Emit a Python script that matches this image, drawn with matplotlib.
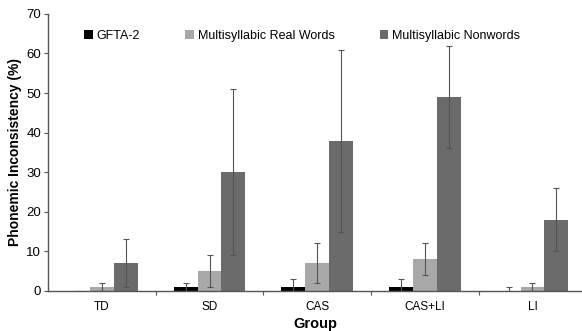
import numpy as np
import matplotlib
matplotlib.use('Agg')
import matplotlib.pyplot as plt

groups = ['TD', 'SD', 'CAS', 'CAS+LI', 'LI']
series = ['GFTA-2', 'Multisyllabic Real Words', 'Multisyllabic Nonwords']
gfta = [0, 1, 1, 1, 0]
gfta_err = [0, 1, 2, 2, 1]
real = [1, 5, 7, 8, 1]
real_err = [1, 4, 5, 4, 1]
nonw = [7, 30, 38, 49, 18]
nonw_err = [6, 21, 23, 13, 8]

plt.rcParams['font.family'] = ['Liberation Sans', 'DejaVu Sans']

fig = plt.figure(figsize=(5.82, 3.31), dpi=100)
ax = fig.add_axes([0.0825, 0.121, 0.9175, 0.837])

colors = ['#000000', '#a8a8a8', '#6b6b6b']
x = np.arange(len(groups)) + 0.5
width = 0.222
for i, (vals, errs) in enumerate([(gfta, gfta_err), (real, real_err), (nonw, nonw_err)]):
    vals = np.array(vals, dtype=float)
    errs = np.array(errs, dtype=float)
    lower = np.minimum(vals, errs)
    ax.bar(x + (i - 1) * width, vals, width, color=colors[i], label=series[i],
           yerr=[lower, errs], capsize=2.5,
           error_kw=dict(ecolor='#555555', elinewidth=0.8, capthick=0.8))

ax.set_xlim(0, 4.96)
ax.set_ylim(0, 70)
ax.set_yticks(range(0, 71, 10))
ax.set_xticks([1, 2, 3, 4])
ax.set_xticklabels([])
ax.set_xticks(x, minor=True)
ax.set_xticklabels(groups, minor=True, fontsize=8.5)
ax.tick_params(axis='x', which='minor', length=0, pad=7)
ax.tick_params(axis='x', which='major', length=3, color='#555555')
ax.tick_params(axis='y', labelsize=9.5, length=3, color='#555555', pad=2)

for s in ['top', 'right']:
    ax.spines[s].set_visible(False)
for s in ['left', 'bottom']:
    ax.spines[s].set_color('#555555')
    ax.spines[s].set_linewidth(1.0)

ax.set_ylabel('Phonemic Inconsistency (%)', fontsize=10, fontweight='bold', labelpad=3)
ax.set_xlabel('Group', fontsize=10.5, fontweight='bold', labelpad=3)

ax.legend(loc='upper left', bbox_to_anchor=(0.047, 0.982), ncol=3, frameon=False,
          fontsize=9, handlelength=0.7, handleheight=0.7, handletextpad=0.3,
          columnspacing=3.6)

fig.savefig('out.png', dpi=100)
